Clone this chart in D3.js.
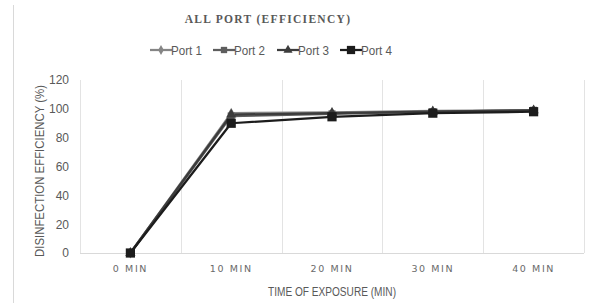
<!DOCTYPE html>
<html><head><meta charset="utf-8">
<script src="https://cdn.jsdelivr.net/npm/d3@7"></script>
<style>body{margin:0;background:#fff;}svg{display:block;}</style>
</head><body>
<svg id="c" width="595" height="303"></svg>
<script>
const categories = ["0 MIN","10 MIN","20 MIN","30 MIN","40 MIN"];
const seriesNames = ["Port 1","Port 2","Port 3","Port 4"];
const port1 = [0, 97, 97.5, 98.5, 99];
const port2 = [0, 95, 96.5, 98, 99];
const port3 = [0, 96, 97, 98, 99];
const port4 = [0, 90, 94.5, 97, 98];
const yTicks = [0,20,40,60,80,100,120];
const colors = ["#858585","#5e5e5e","#3c3c3c","#1c1c1c"];
const symbols = [d3.symbolDiamond, d3.symbolSquare, d3.symbolTriangle, d3.symbolSquare];
const symSizes = [35, 50, 45, 85];
const data = [port1, port2, port3, port4];

const svg = d3.select("#c");
const m = {l:80, r:584, t:80, b:253};
const x = d3.scaleBand().domain(categories).range([m.l, m.r]);
const y = d3.scaleLinear().domain([0,120]).range([m.b, m.t]);
const narrow = "Liberation Sans, Arial, sans-serif";

// left border
svg.append("line").attr("x1",13.5).attr("x2",13.5).attr("y1",5).attr("y2",303).attr("stroke","#d9d9d9");

// vertical gridlines
const edges = categories.map(c => x(c)).concat([m.r]);
svg.selectAll(".vg").data(edges).enter().append("line")
  .attr("x1",d=>Math.round(d)+0.5).attr("x2",d=>Math.round(d)+0.5)
  .attr("y1",m.t).attr("y2",m.b).attr("stroke","#e3e3e3").attr("stroke-width",1);
// baseline
svg.append("line").attr("x1",m.l).attr("x2",m.r).attr("y1",m.b+0.5).attr("y2",m.b+0.5).attr("stroke","#d9d9d9");

// y axis labels
const ya = svg.append("g").attr("transform",`translate(${m.l-11},0)`)
  .call(d3.axisLeft(y).tickValues(yTicks).tickSize(0).tickPadding(0));
ya.select(".domain").remove();
ya.selectAll("text").attr("fill","#595959").style("font-family",narrow).style("font-size","12px");

// x axis labels
const xa = svg.append("g").attr("transform",`translate(0,${m.b+12})`)
  .call(d3.axisBottom(x).tickSize(0).tickPadding(0));
xa.select(".domain").remove();
xa.selectAll("text").attr("fill","#6a6a6a").style("font-family","DejaVu Sans, sans-serif").style("font-size","9.5px").style("letter-spacing","1.6px");

// axis titles
svg.append("text").attr("x",332).attr("y",296).attr("text-anchor","middle")
  .attr("fill","#595959").style("font-family",narrow).style("font-size","12px")
  .attr("textLength",128).attr("lengthAdjust","spacingAndGlyphs")
  .text("TIME OF EXPOSURE (MIN)");
svg.append("text").attr("transform",`translate(44,171) rotate(-90)`).attr("text-anchor","middle")
  .attr("fill","#595959").style("font-family",narrow).style("font-size","12px")
  .attr("textLength",172).attr("lengthAdjust","spacingAndGlyphs")
  .text("DISINFECTION EFFICIENCY (%)");

// title
svg.append("text").attr("x",268).attr("y",23).attr("text-anchor","middle")
  .attr("fill","#595959").style("font-family","Liberation Serif, serif").style("font-weight","bold")
  .style("font-size","11.5px").style("letter-spacing","1.3px").text("ALL PORT (EFFICIENCY)");

// lines
const line = d3.line().x((d,i)=>x(categories[i])+x.bandwidth()/2).y(d=>y(d));
data.forEach((s,k)=>{
  svg.append("path").datum(s).attr("d",line).attr("fill","none")
    .attr("stroke",colors[k]).attr("stroke-width",2.25).attr("stroke-linejoin","round");
});
data.forEach((s,k)=>{
  svg.selectAll(".m"+k).data(s).enter().append("path")
    .attr("transform",(d,i)=>`translate(${x(categories[i])+x.bandwidth()/2},${y(d)})`)
    .attr("d",d3.symbol().type(symbols[k]).size(symSizes[k])).attr("fill",colors[k]);
});

// legend
const legX = [150, 213, 277, 340];
seriesNames.forEach((n,k)=>{
  const g = svg.append("g").attr("transform",`translate(${legX[k]},50)`);
  g.append("line").attr("x1",0).attr("x2",22).attr("y1",0).attr("y2",0).attr("stroke",colors[k]).attr("stroke-width",2.25);
  g.append("path").attr("transform","translate(11,0)").attr("d",d3.symbol().type(symbols[k]).size(symSizes[k]*0.8)).attr("fill",colors[k]);
  g.append("text").attr("x",21).attr("y",4.5).attr("fill","#595959")
    .style("font-family",narrow).style("font-size","12px")
    .attr("textLength",31).attr("lengthAdjust","spacingAndGlyphs").text(n);
});
</script>
</body></html>
